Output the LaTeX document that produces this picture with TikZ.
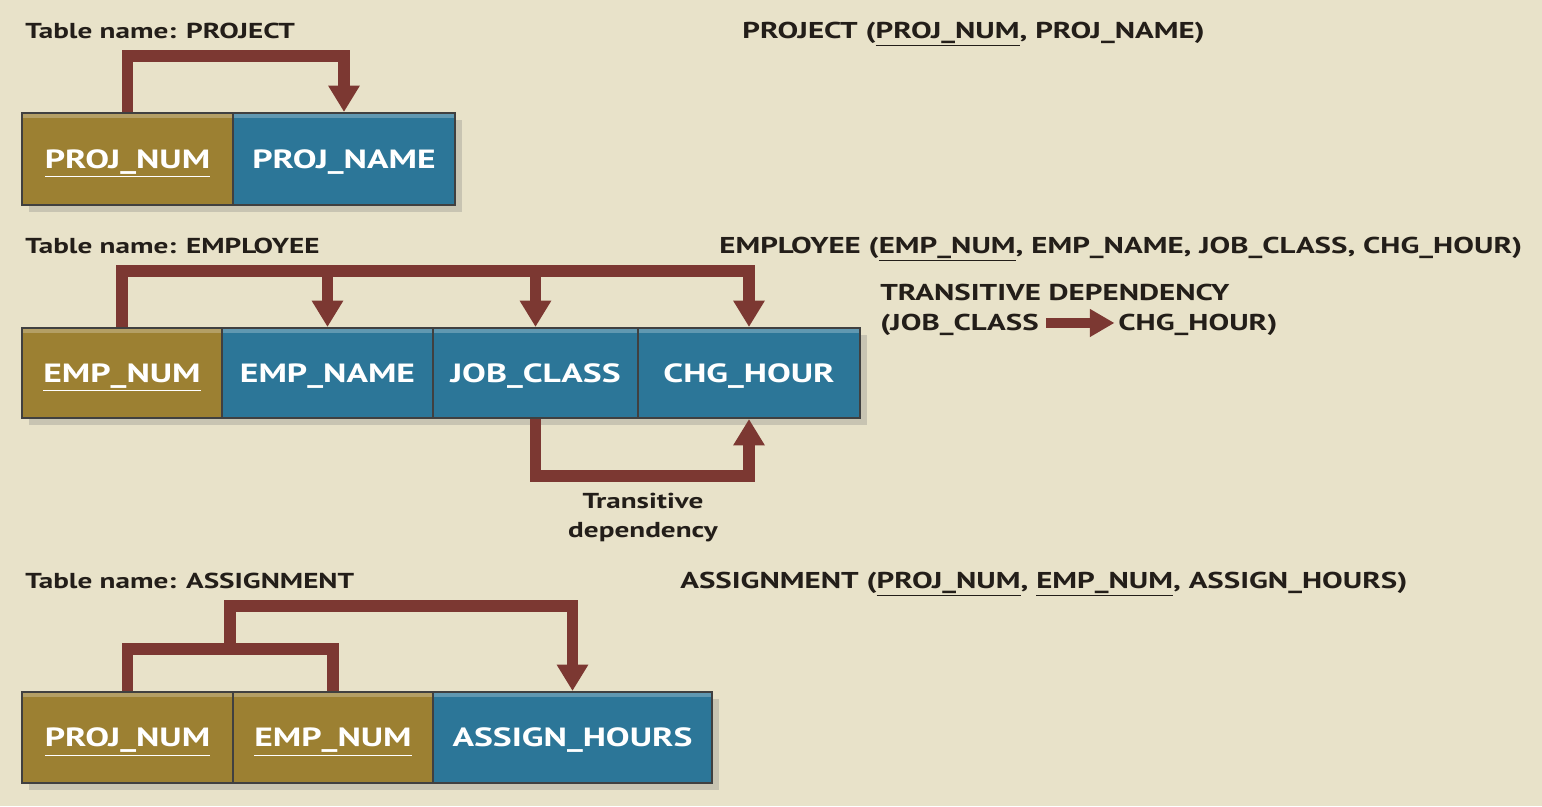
\documentclass[tikz,border=0pt]{standalone}
\usepackage{fontspec}
\setmainfont{PT Sans}[FakeStretch=1.35]
\usetikzlibrary{arrows.meta,calc,shadows}
\definecolor{bgc}{RGB}{232,226,201}
\definecolor{keyc}{RGB}{156,128,50}
\definecolor{attc}{RGB}{44,118,152}
\definecolor{depc}{RGB}{124,56,50}
\definecolor{txtc}{RGB}{35,30,25}
\tikzset{
  fld/.style={draw=black!75,line width=1.2pt,inner sep=0,text=white,text height=10.5pt,text depth=0pt,
    font=\fontsize{15}{17}\selectfont\bfseries,
    drop shadow={shadow xshift=4pt,shadow yshift=-4pt,opacity=0.3},
    path picture={\fill[white,opacity=0.25] (path picture bounding box.north west)
      rectangle ([yshift=-3pt]path picture bounding box.north east);}},
  ttl/.style={anchor=base west,inner sep=0,text=txtc,font=\fontsize{12.3}{15}\selectfont\bfseries},
  rtl/.style={ttl,font=\fontsize{13.05}{15}\selectfont\bfseries},
  dep/.style={draw=depc,line width=6.8pt},
  deparr/.style={dep,-{Triangle[width=17pt,length=15pt]}}
}
\begin{document}
\begin{tikzpicture}[x=0.02cm,y=-0.02cm]
\fill[bgc](0,0)rectangle(1542,806);
\node[ttl](tp)at(25,38){Table name: PROJECT};
\node[rtl](rp)at(742,38){PROJECT (\underline{PROJ\_NUM}, PROJ\_NAME)};
\foreach \nm/\x/\w/\cl/\lb in {pn/127.5/211/keyc/{\underline{PROJ\_NUM}},pm/344/222/attc/{PROJ\_NAME}}
  {\node[fld,fill=\cl,minimum width=\w*0.02cm,minimum height=1.84cm](\nm)at(\x,159){\lb};}
\draw[deparr](pn.north)--++(0,-56)-|(pm.north);
\node[ttl](te)at(25,253){Table name: EMPLOYEE};
\node[rtl](re)at(719,253){EMPLOYEE (\underline{EMP\_NUM}, EMP\_NAME, JOB\_CLASS, CHG\_HOUR)};
\node[rtl](td)at(880,300){TRANSITIVE DEPENDENCY};
\node[rtl](tda)at(880,330){(JOB\_CLASS};
\node[rtl](tdb)at(1118,330){CHG\_HOUR)};
\draw[draw=depc,line width=5.5pt,-{Triangle[width=15pt,length=14pt]}]([xshift=4pt,yshift=4pt]tda.base east)--([xshift=-2pt,yshift=4pt]tdb.base west);
\foreach \nm/\x/\w/\cl/\lb in {en/122/200/keyc/{\underline{EMP\_NUM}},em/327.5/211/attc/{EMP\_NAME},
  jc/535.5/205/attc/{JOB\_CLASS},ch/749/222/attc/{CHG\_HOUR}}
  {\node[fld,fill=\cl,minimum width=\w*0.02cm,minimum height=1.8cm](\nm)at(\x,373){\lb};}
\path(en.north)++(0,-56)coordinate(ebar);
\draw[deparr](en.north)--(ebar)-|(ch.north);
\foreach \t in {em,jc}{\draw[deparr](ebar-|\t.north)--(\t.north);}
\draw[deparr](jc.south)--++(0,57)-|(ch.south);
\node[anchor=north,inner sep=0,align=center,text=txtc,font=\fontsize{12.3}{16.5}\selectfont\bfseries](tr)at(643,493){Transitive\\dependency};
\node[ttl](ta)at(25,588){Table name: ASSIGNMENT};
\node[rtl](ra)at(680,588){ASSIGNMENT (\underline{PROJ\_NUM}, \underline{EMP\_NUM}, ASSIGN\_HOURS)};
\foreach \nm/\x/\w/\cl/\lb in {ap/127.5/211/keyc/{\underline{PROJ\_NUM}},ae/333/200/keyc/{\underline{EMP\_NUM}},
  ah/572.5/279/attc/{ASSIGN\_HOURS}}
  {\node[fld,fill=\cl,minimum width=\w*0.02cm,minimum height=1.82cm](\nm)at(\x,737.5){\lb};}
\draw[dep](ap.north)--++(0,-42)-|(ae.north);
\draw[deparr]($(ap.north)!0.5!(ae.north)+(0,-42)$)--++(0,-43)-|(ah.north);
\end{tikzpicture}
\end{document}
